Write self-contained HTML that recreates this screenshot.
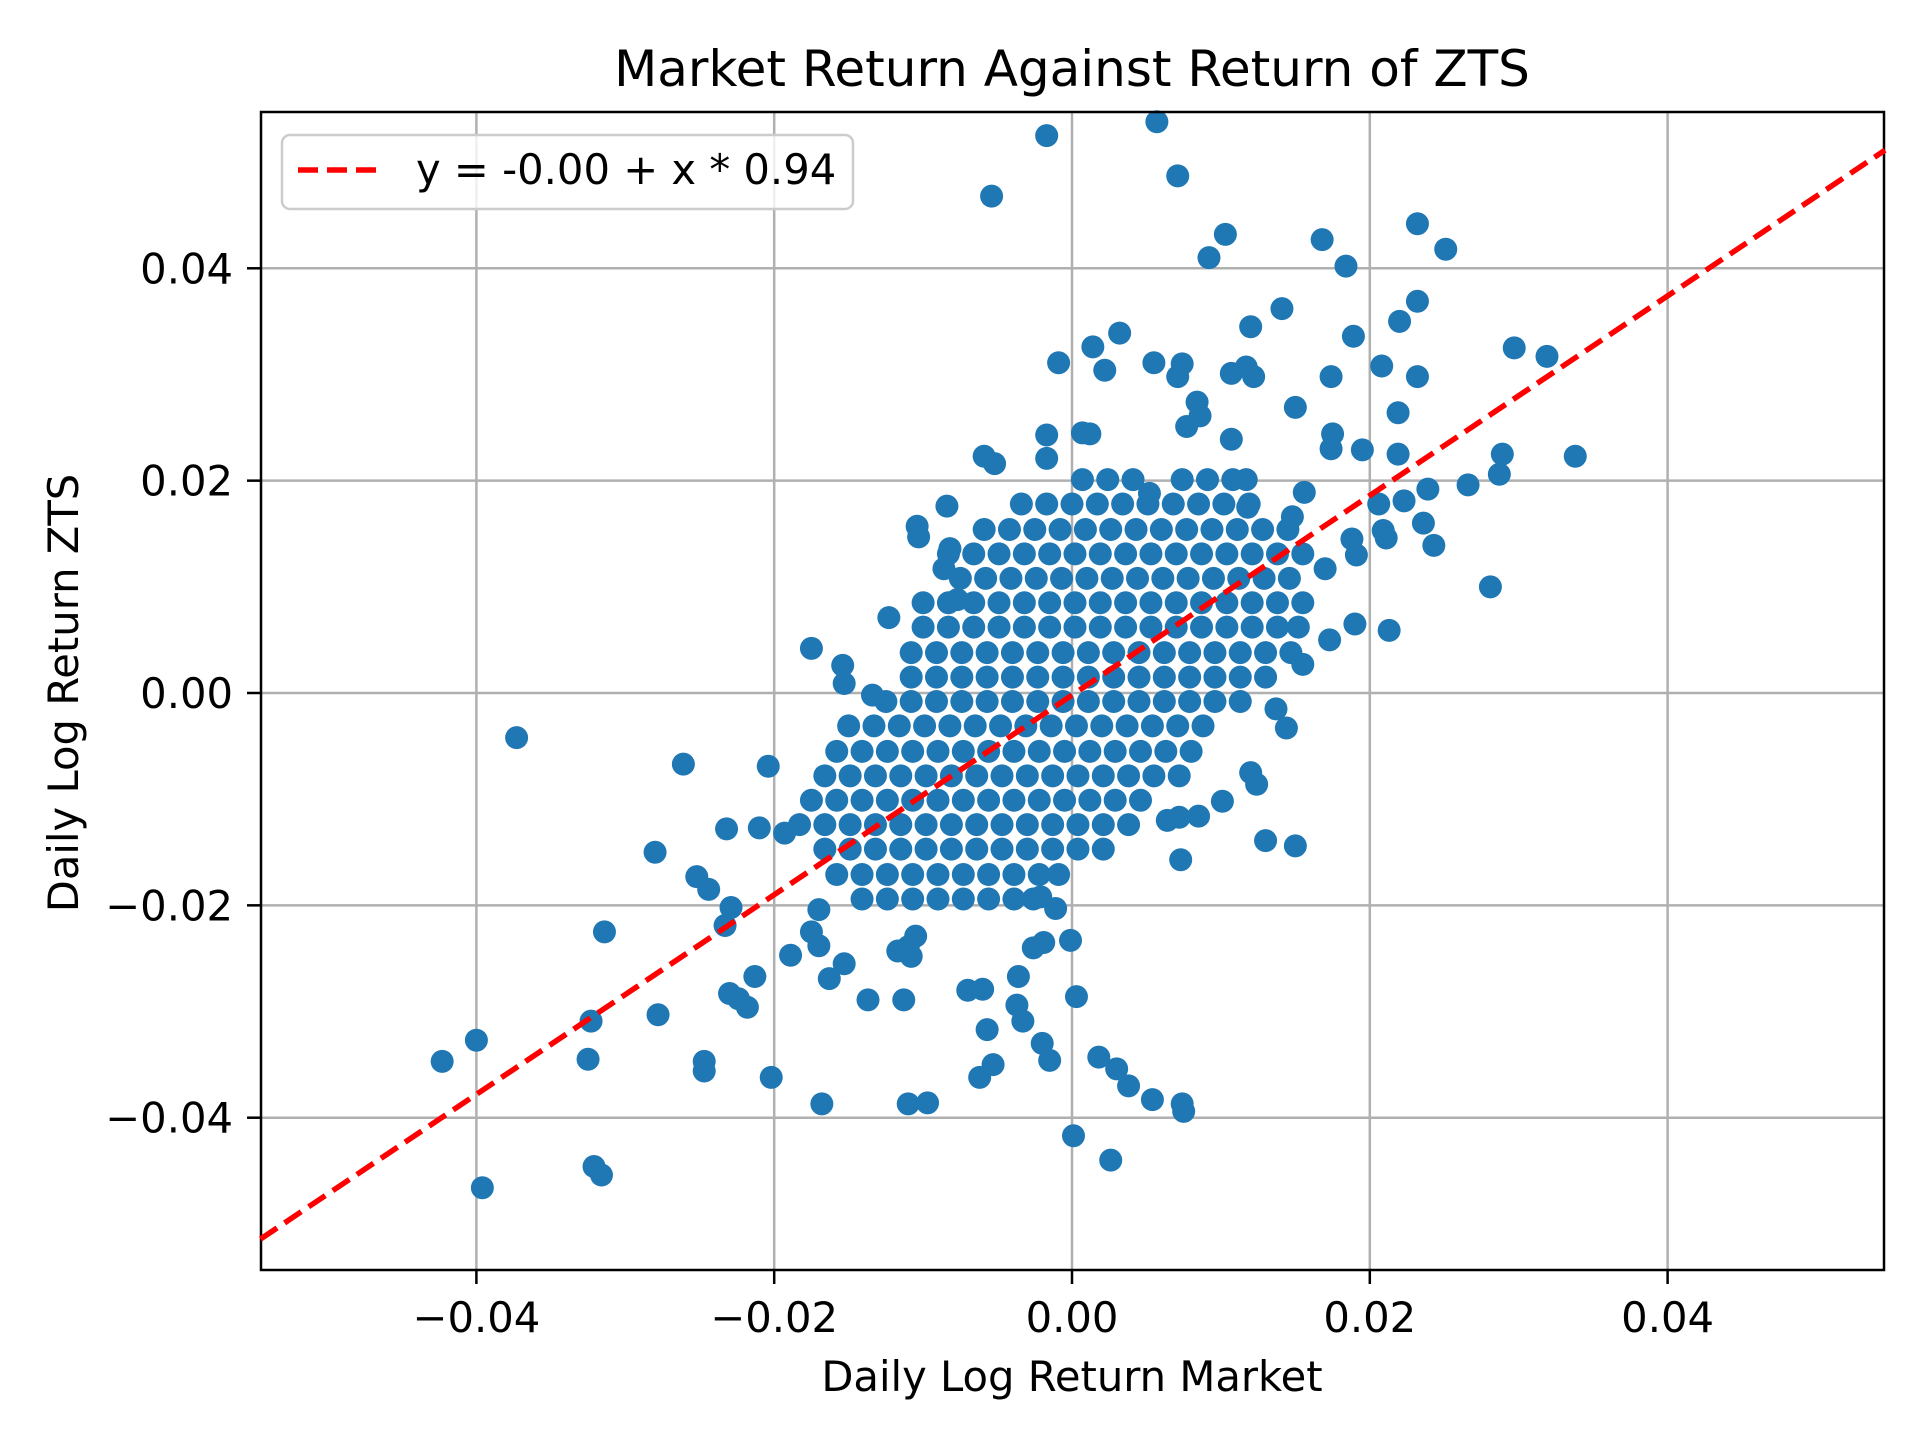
<!DOCTYPE html>
<html><head><meta charset="utf-8"><style>
html,body{margin:0;padding:0;background:#fff;}
svg{display:block;font-family:"DejaVu Sans","Liberation Sans",sans-serif;}
</style></head><body>
<svg id="chart" width="1920" height="1440" viewBox="0 0 1920 1440" xmlns="http://www.w3.org/2000/svg">
<rect width="1920" height="1440" fill="#fff"/>
<text x="1072" y="86" font-size="50" text-anchor="middle">Market Return Against Return of ZTS</text>
<g id="grid"></g>
<g id="line"></g>
<g id="points"></g>
<rect x="261" y="112" width="1623" height="1158" fill="none" stroke="#000" stroke-width="2.5"/>
<g id="ticks"></g>
<text x="1072" y="1391" font-size="41.7" text-anchor="middle">Daily Log Return Market</text>
<text transform="translate(78,693) rotate(-90)" font-size="41.7" text-anchor="middle">Daily Log Return ZTS</text>
<g>
<rect x="282" y="135" width="571" height="74" rx="8" fill="#fff" fill-opacity="0.8" stroke="#ccc" stroke-width="2.5"/>
<line x1="298" y1="170" x2="384" y2="170" stroke="#ff0000" stroke-width="5.5" stroke-dasharray="20,9"/>
<text x="416" y="184" font-size="41.7">y = -0.00 + x * 0.94</text>
</g>
</svg>
<script>
const xTicks = [-0.04, -0.02, 0.00, 0.02, 0.04];
const xTickLabels = ["\u22120.04", "\u22120.02", "0.00", "0.02", "0.04"];
const yTicks = [-0.04, -0.02, 0.00, 0.02, 0.04];
const yTickLabels = ["\u22120.04", "\u22120.02", "0.00", "0.02", "0.04"];
const intercept = -0.0002;
const slope = 0.94;
const xDomain = [-0.0545, 0.0546];
const outX = [-0.0017,0.0057,-0.0054,0.0071,0.0103,0.0168,0.0232,0.0251,0.0092,0.0184,0.0232,0.0141,0.0120,0.0032,0.0014,0.0189,0.0220,-0.0009,0.0022,0.0055,0.0074,0.0071,0.0107,0.0117,0.0122,0.0174,0.0208,0.0232,0.0297,0.0319,0.0338,0.0289,0.0287,0.0266,0.0281,0.0150,0.0219,0.0084,0.0086,-0.0017,0.0007,0.0012,-0.0017,-0.0059,-0.0052,-0.0084,-0.0104,-0.0103,-0.0123,-0.0175,-0.0154,-0.0153,-0.0134,-0.0373,-0.0261,-0.0204,-0.0280,-0.0252,-0.0244,-0.0232,-0.0210,-0.0193,-0.0229,-0.0233,-0.0314,-0.0323,-0.0278,-0.0325,-0.0423,-0.0400,-0.0396,-0.0321,-0.0316,-0.0247,-0.0247,-0.0202,-0.0168,-0.0110,-0.0097,-0.0062,-0.0053,-0.0015,-0.0020,0.0018,0.0030,0.0038,0.0054,0.0074,0.0075,0.0001,0.0026,0.0003,-0.0033,-0.0037,-0.0036,-0.0057,-0.0070,-0.0060,-0.0137,-0.0113,-0.0213,-0.0224,-0.0230,-0.0218,-0.0189,-0.0170,-0.0153,-0.0175,-0.0170,-0.0163,-0.0108,-0.0110,-0.0105,-0.0117,-0.0011,-0.0021,-0.0026,-0.0019,-0.0001,0.0073,0.0130,0.0150,0.0120,0.0124,0.0101,0.0085,0.0072,0.0064,0.0137,0.0144,0.0243,0.0236,0.0209,0.0211,0.0213,0.0190,0.0173,0.0155,0.0195,0.0219,0.0239,0.0223,0.0188,0.0191,0.0170,0.0175,0.0174,-0.0086,-0.0082,-0.0077,0.0052,0.0077,0.0107,0.0117,0.0118,0.0156,0.0148,0.0206];
const outY = [0.0525,0.0538,0.0468,0.0487,0.0432,0.0427,0.0442,0.0418,0.0410,0.0402,0.0369,0.0362,0.0345,0.0339,0.0326,0.0336,0.0350,0.0311,0.0304,0.0311,0.0310,0.0298,0.0301,0.0307,0.0298,0.0298,0.0308,0.0298,0.0325,0.0317,0.0223,0.0225,0.0206,0.0196,0.0100,0.0269,0.0264,0.0274,0.0261,0.0243,0.0245,0.0244,0.0221,0.0223,0.0216,0.0176,0.0157,0.0147,0.0071,0.0042,0.0026,0.0009,-0.0002,-0.0042,-0.0067,-0.0069,-0.0150,-0.0173,-0.0185,-0.0128,-0.0127,-0.0132,-0.0202,-0.0219,-0.0225,-0.0309,-0.0303,-0.0345,-0.0347,-0.0327,-0.0466,-0.0446,-0.0454,-0.0347,-0.0356,-0.0362,-0.0387,-0.0387,-0.0386,-0.0362,-0.0350,-0.0346,-0.0330,-0.0343,-0.0354,-0.0370,-0.0383,-0.0387,-0.0394,-0.0417,-0.0440,-0.0286,-0.0309,-0.0294,-0.0267,-0.0317,-0.0280,-0.0279,-0.0289,-0.0289,-0.0267,-0.0288,-0.0283,-0.0296,-0.0247,-0.0238,-0.0255,-0.0225,-0.0204,-0.0269,-0.0248,-0.0239,-0.0229,-0.0243,-0.0203,-0.0192,-0.0240,-0.0235,-0.0233,-0.0157,-0.0139,-0.0144,-0.0075,-0.0086,-0.0102,-0.0116,-0.0117,-0.0120,-0.0015,-0.0033,0.0139,0.0160,0.0153,0.0146,0.0059,0.0065,0.0050,0.0027,0.0229,0.0225,0.0192,0.0181,0.0145,0.0130,0.0117,0.0244,0.0230,0.0117,0.0136,0.0088,0.0188,0.0251,0.0239,0.0201,0.0175,0.0189,0.0166,0.0178];
const clusterRowY = [0.0201,0.0178,0.0154,0.0131,0.0108,0.0085,0.0062,0.0038,0.0015,-0.0008,-0.0031,-0.0055,-0.0078,-0.0101,-0.0124,-0.0147,-0.0171,-0.0194];
const clusterRowX = [
[0.0007,0.0024,0.0041,0.0074,0.0091,0.0108],
[-0.0034,-0.0017,0,0.0017,0.0034,0.0051,0.0068,0.0085,0.0102,0.0119],
[-0.0059,-0.0042,-0.0025,-0.0008,0.0009,0.0026,0.0043,0.006,0.0077,0.0094,0.0111,0.0128,0.0145],
[-0.0083,-0.0066,-0.0049,-0.0032,-0.0015,0.0002,0.0019,0.0036,0.0053,0.007,0.0087,0.0104,0.0121,0.0138,0.0155],
[-0.0075,-0.0058,-0.0041,-0.0024,-0.0007,0.001,0.0027,0.0044,0.0061,0.0078,0.0095,0.0112,0.0129,0.0146],
[-0.0100,-0.0083,-0.0066,-0.0049,-0.0032,-0.0015,0.0002,0.0019,0.0036,0.0053,0.007,0.0087,0.0104,0.0121,0.0138,0.0155],
[-0.0100,-0.0083,-0.0066,-0.0049,-0.0032,-0.0015,0.0002,0.0019,0.0036,0.0053,0.007,0.0087,0.0104,0.0121,0.0138,0.0152],
[-0.0108,-0.0091,-0.0074,-0.0057,-0.004,-0.0023,-0.0006,0.0011,0.0028,0.0045,0.0062,0.0079,0.0096,0.0113,0.013,0.0147],
[-0.0108,-0.0091,-0.0074,-0.0057,-0.004,-0.0023,-0.0006,0.0011,0.0028,0.0045,0.0062,0.0079,0.0096,0.0113,0.013],
[-0.0125,-0.0108,-0.0091,-0.0074,-0.0057,-0.004,-0.0023,-0.0006,0.0011,0.0028,0.0045,0.0062,0.0079,0.0096,0.0113],
[-0.015,-0.0133,-0.0116,-0.0099,-0.0082,-0.0065,-0.0048,-0.0031,-0.0014,0.0003,0.002,0.0037,0.0054,0.0071,0.0088],
[-0.0158,-0.0141,-0.0124,-0.0107,-0.009,-0.0073,-0.0056,-0.0039,-0.0022,-0.0005,0.0012,0.0029,0.0046,0.0063,0.008],
[-0.0166,-0.0149,-0.0132,-0.0115,-0.0098,-0.0081,-0.0064,-0.0047,-0.003,-0.0013,0.0004,0.0021,0.0038,0.0055,0.0072],
[-0.0175,-0.0158,-0.0141,-0.0124,-0.0107,-0.009,-0.0073,-0.0056,-0.0039,-0.0022,-0.0005,0.0012,0.0029,0.0046],
[-0.0183,-0.0166,-0.0149,-0.0132,-0.0115,-0.0098,-0.0081,-0.0064,-0.0047,-0.003,-0.0013,0.0004,0.0021,0.0038],
[-0.0166,-0.0149,-0.0132,-0.0115,-0.0098,-0.0081,-0.0064,-0.0047,-0.003,-0.0013,0.0004,0.0021],
[-0.0158,-0.0141,-0.0124,-0.0107,-0.009,-0.0073,-0.0056,-0.0039,-0.0022,-0.0009],
[-0.0141,-0.0124,-0.0107,-0.009,-0.0073,-0.0056,-0.0039,-0.0026]
];
const NS = "http://www.w3.org/2000/svg";
const L = 261, R = 1884, T = 112, B = 1270;
function sx(v){ return 1072 + v / 0.04 * 595.6; }
function sy(v){ return 693 - v / 0.04 * 424.7; }
function mk(tag, attrs, parent){ const e = document.createElementNS(NS, tag); for (const k in attrs) e.setAttribute(k, attrs[k]); parent.appendChild(e); return e; }
const grid = document.getElementById('grid');
const ticks = document.getElementById('ticks');
xTicks.forEach((v, i) => {
  const X = sx(v);
  const g = mk('line', {x1: X, x2: X, y1: T, y2: B, stroke: '#b0b0b0', 'stroke-width': 2.5}, grid);
  
  
  const t = mk('line', {x1: X, x2: X, y1: B, y2: B + 14, stroke: '#000', 'stroke-width': 2.5}, ticks);
  
  
  const lb = mk('text', {x: X, y: B + 62, 'font-size': 41.7, 'text-anchor': 'middle'}, ticks);
  lb.textContent = xTickLabels[i];
  
  
});
yTicks.forEach((v, i) => {
  const Y = sy(v);
  const g = mk('line', {x1: L, x2: R, y1: Y, y2: Y, stroke: '#b0b0b0', 'stroke-width': 2.5}, grid);
  
  
  const t = mk('line', {x1: L - 14, x2: L, y1: Y, y2: Y, stroke: '#000', 'stroke-width': 2.5}, ticks);
  
  
  const lb = mk('text', {x: L - 28, y: Y + 15, 'font-size': 41.7, 'text-anchor': 'end'}, ticks);
  lb.textContent = yTickLabels[i];
  
  
});
const pts = document.getElementById('points');
function dot(x, y){
  const c = mk('circle', {cx: sx(x), cy: sy(y), r: 11.5, fill: '#1f77b4'}, pts);
  
  
}
clusterRowY.forEach((y, i) => clusterRowX[i].forEach(x => dot(x, y)));
outX.forEach((x, i) => dot(x, outY[i]));
const ln = mk('line', {x1: sx(xDomain[0]), y1: sy(intercept + slope * xDomain[0]), x2: sx(xDomain[1]), y2: sy(intercept + slope * xDomain[1]), stroke: '#ff0000', 'stroke-width': 5.5, 'stroke-dasharray': '20,9'}, document.getElementById('line'));


document.getElementById('chart').appendChild(document.getElementById('line'));
</script>
</body></html>
